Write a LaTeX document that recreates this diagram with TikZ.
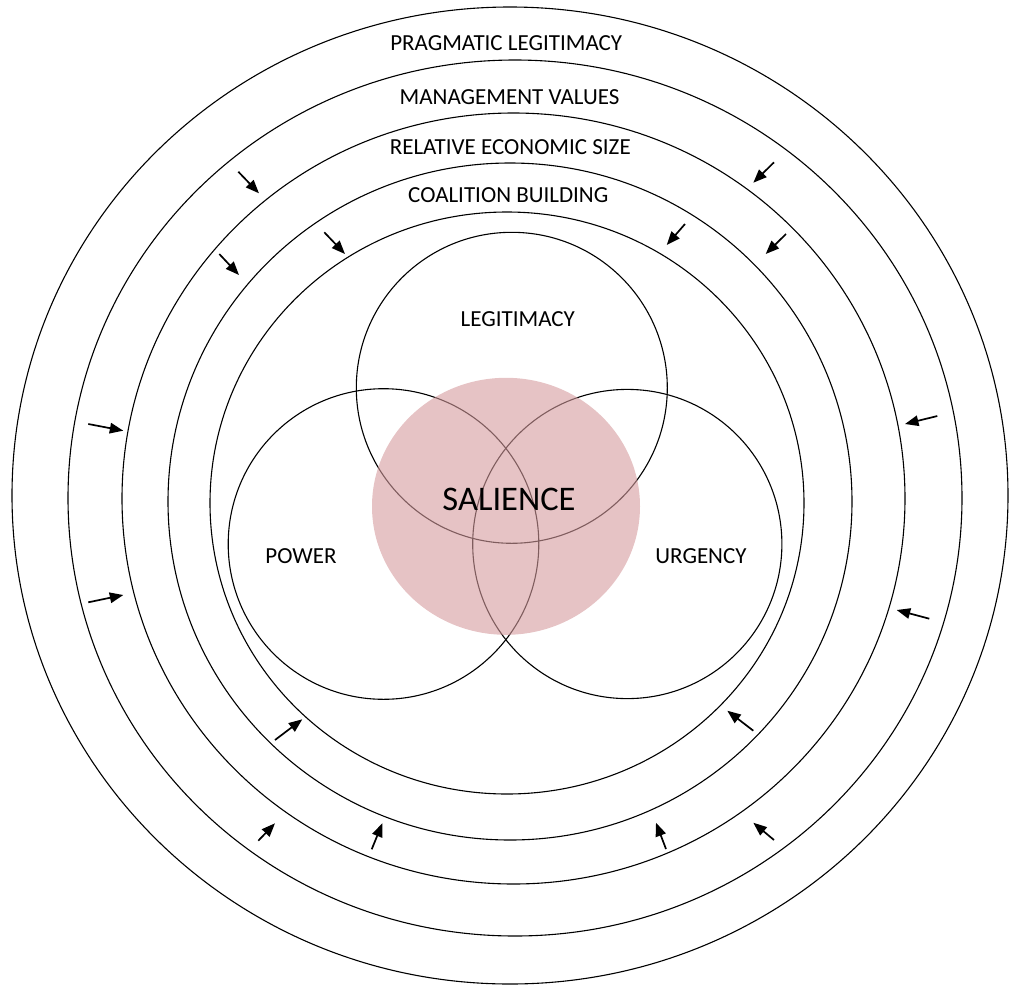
\documentclass[tikz,border=0pt]{standalone}
\usepackage{fontspec}
\setmainfont{Carlito}
\usepackage{tikz}
\usetikzlibrary{arrows.meta}
\definecolor{salienceColor}{RGB}{213,155,158}

\begin{document}
\begin{tikzpicture}[x=1pt,y=-1pt]

          \tikzstyle{ringLine} = [line width=1.1pt, black];
          \tikzstyle{vennLine} = [line width=1.1pt, black];
          \tikzstyle{salienceFill} = [fill=salienceColor, fill opacity=0.6, draw=none];
          \tikzstyle{labelNode} = [black, font=\fontsize{23}{26}\selectfont, inner sep=0pt];
          \tikzstyle{bigNode} = [black, font=\fontsize{34.5}{38}\selectfont, inner sep=0pt];
          \tikzstyle{pushArrow} = [line width=1.7pt, -{Triangle[length=13.5pt,width=10.5pt]}];

          \useasboundingbox (0,0) rectangle (1010,986);

          % rings
          \draw[ringLine] (510,495.5) ellipse [x radius=498, y radius=488.5];
          \draw[ringLine] (515,498) ellipse [x radius=447, y radius=438];
          \draw[ringLine] (513.5,498.5) ellipse [x radius=391.5, y radius=385.5];
          \draw[ringLine] (510,501.5) ellipse [x radius=342, y radius=338.5];
          \draw[ringLine] (507,503) ellipse [x radius=297, y radius=291];

          % venn
          \draw[vennLine] (511.8,387.8) circle [radius=155.5];
          \draw[vennLine] (383.5,544) circle [radius=155.3];
          \draw[vennLine] (627.3,544) circle [radius=154.6];
          \fill[salienceFill] (506,506.3) ellipse [x radius=134, y radius=128.5];

          \node[labelNode] (pragmatic) at (506.2,43.3) {PRAGMATIC LEGITIMACY};
          \node[labelNode] (management) at (509.5,96.7) {MANAGEMENT VALUES};
          \node[labelNode] (economic) at (510.3,147.5) {RELATIVE ECONOMIC SIZE};
          \node[labelNode] (coalition) at (508.3,195) {COALITION BUILDING};
          \node[labelNode] (legitimacy) at (517.8,319.5) {LEGITIMACY};
          \node[labelNode] (power) at (301,556) {POWER};
          \node[labelNode] (urgency) at (701,556) {URGENCY};
          \node[bigNode] (salience) at (509,499.7) {SALIENCE};

          % arrow ends
          \coordinate (pA) at (238.3,171.7);
          \coordinate (qA) at (259,193.3);
          \coordinate (pB) at (219.3,254);
          \coordinate (qB) at (239,275);
          \coordinate (pC) at (324.3,232.3);
          \coordinate (qC) at (345,254);
          \coordinate (pD) at (774,162.3);
          \coordinate (qD) at (753.3,182.7);
          \coordinate (pE) at (685,224);
          \coordinate (qE) at (666.7,245);
          \coordinate (pF) at (786,234);
          \coordinate (qF) at (765.7,254);
          \coordinate (pG) at (88.3,424);
          \coordinate (qG) at (123.3,430.7);
          \coordinate (pH) at (88.3,602.3);
          \coordinate (qH) at (123.3,595);
          \coordinate (pI) at (937.3,416);
          \coordinate (qI) at (905,424);
          \coordinate (pJ) at (929.3,618.7);
          \coordinate (qJ) at (896.7,610);
          \coordinate (pK) at (275,740);
          \coordinate (qK) at (302.3,719.3);
          \coordinate (pL) at (258.3,840.7);
          \coordinate (qL) at (275,823.3);
          \coordinate (pM) at (371.7,849.3);
          \coordinate (qM) at (382.3,823.3);
          \coordinate (pN) at (753.3,730.7);
          \coordinate (qN) at (727.3,710.7);
          \coordinate (pO) at (666,849);
          \coordinate (qO) at (656,822.7);
          \coordinate (pP) at (774,840);
          \coordinate (qP) at (753.3,822.7);

          \draw[pushArrow] (pA) -- (qA);
          \draw[pushArrow] (pB) -- (qB);
          \draw[pushArrow] (pC) -- (qC);
          \draw[pushArrow] (pD) -- (qD);
          \draw[pushArrow] (pE) -- (qE);
          \draw[pushArrow] (pF) -- (qF);
          \draw[pushArrow] (pG) -- (qG);
          \draw[pushArrow] (pH) -- (qH);
          \draw[pushArrow] (pI) -- (qI);
          \draw[pushArrow] (pJ) -- (qJ);
          \draw[pushArrow] (pK) -- (qK);
          \draw[pushArrow] (pL) -- (qL);
          \draw[pushArrow] (pM) -- (qM);
          \draw[pushArrow] (pN) -- (qN);
          \draw[pushArrow] (pO) -- (qO);
          \draw[pushArrow] (pP) -- (qP);
        \end{tikzpicture}
\end{document}
